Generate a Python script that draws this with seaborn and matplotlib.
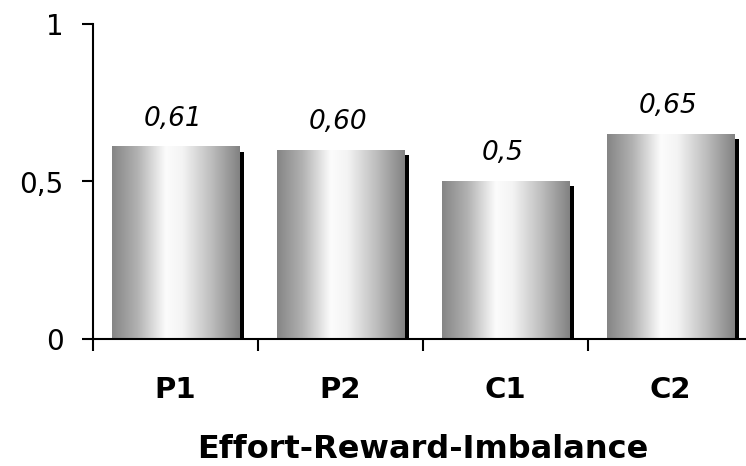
import numpy as np
import matplotlib
matplotlib.use('Agg')
import matplotlib.pyplot as plt
import matplotlib.patheffects as pe
from matplotlib.colors import LinearSegmentedColormap
import seaborn as sns

# Data
groups = ['P1', 'P2', 'C1', 'C2']
values = [0.61, 0.60, 0.50, 0.65]
value_labels = ['0,61', '0,60', '0,5', '0,65']
y_ticks = [0, 0.5, 1]
y_tick_labels = ['0', '0,5', '1']
x_title = 'Effort-Reward-Imbalance'

sns.set_style('white')
plt.rcParams['font.family'] = ['DejaVu Sans']
plt.rcParams['text.color'] = 'black'
plt.rcParams['xtick.color'] = 'black'
plt.rcParams['ytick.color'] = 'black'
plt.rcParams['axes.labelcolor'] = 'black'

fig = plt.figure(figsize=(7.46, 4.66), dpi=100)
ax = fig.add_axes([93 / 746, (466 - 339) / 466, 660 / 746, (339 - 24) / 466])

sns.barplot(x=groups, y=values, color='#a0a0a0', width=0.77, ax=ax,
            edgecolor='none', linewidth=0)

# metallic gradient + drop shadow on each bar
grad_cmap = LinearSegmentedColormap.from_list('metal', [
    (0.0, '#858585'), (0.2, '#b2b2b2'), (0.42, '#fcfcfc'),
    (0.55, '#f4f4f4'), (0.78, '#bdbdbd'), (1.0, '#828282')])
grad = np.linspace(0, 1, 256).reshape(1, -1)

for patch, lab in zip(ax.patches, value_labels):
    x, y = patch.get_x(), patch.get_y()
    w, h = patch.get_width(), patch.get_height()
    patch.set_facecolor('none')
    patch.set_path_effects([pe.SimplePatchShadow(offset=(3.6, -3.6), shadow_rgbFace='black', alpha=1.0),
                            pe.Normal()])
    ax.imshow(grad, extent=[x, x + w, y, y + h], aspect='auto', cmap=grad_cmap,
              zorder=patch.get_zorder() + 0.1, interpolation='bicubic')
    ax.annotate(lab, (x + w / 2, y + h), xytext=(-2, 11), textcoords='offset points',
                ha='center', va='bottom', fontsize=19, style='italic', color='black')

ax.set_xlim(-0.5, 3.5)
ax.set_ylim(0, 1)

for s in ['top', 'right']:
    ax.spines[s].set_visible(False)
for s in ['left', 'bottom']:
    ax.spines[s].set_linewidth(1.5)
    ax.spines[s].set_color('black')
    ax.spines[s].set_zorder(5)

ax.set_yticks(y_ticks)
ax.set_yticklabels(y_tick_labels, fontsize=20)
ax.tick_params(axis='y', direction='out', length=8, width=1.5, pad=13, left=True)

ax.set_xticks([-0.5, 0.5, 1.5, 2.5, 3.5])
ax.set_xticklabels([])
ax.set_xticks(range(len(groups)), minor=True)
ax.set_xticklabels(groups, minor=True, fontsize=21, fontweight='bold')
ax.tick_params(axis='x', which='major', direction='out', length=8.5, width=1.5, bottom=True)
ax.tick_params(axis='x', which='minor', length=0, pad=27)

ax.set_xlabel(x_title, fontsize=23, fontweight='bold', labelpad=21)
ax.set_ylabel('')

fig.savefig('out.png', dpi=100)
